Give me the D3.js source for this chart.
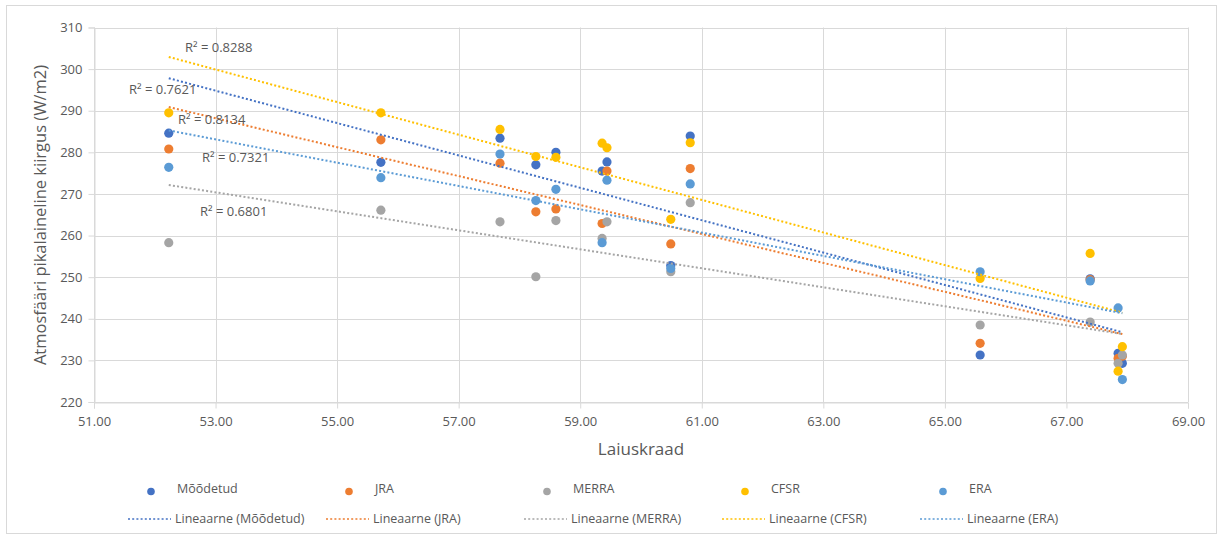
<!DOCTYPE html>
<html>
<head>
<meta charset="utf-8">
<script src="https://cdn.jsdelivr.net/npm/d3@7"></script>
<style>
  html, body { margin: 0; padding: 0; background: #fff; }
  svg text { font-family: "Open Sans", "Noto Sans", sans-serif; fill: #595959; }
</style>
</head>
<body>
<svg id="chart" width="1223" height="541"></svg>
<script>
// ---- Data ----
const latitude = [52.23, 55.72, 57.68, 58.27, 58.60, 59.36, 59.44, 60.49, 60.81, 65.58, 67.39, 67.85, 67.92];
const measured = [284.6, 277.6, 283.4, 277.0, 280.0, 275.5, 277.7, 252.8, 283.9, 231.3, 249.6, 231.7, 229.3];
const jra      = [280.8, 283.0, 277.4, 265.7, 266.4, 262.9, 275.5, 258.0, 276.1, 234.1, 249.4, 230.5, 231.0];
const merra    = [258.3, 266.1, 263.3, 250.1, 263.6, 259.3, 263.3, 251.3, 267.9, 238.5, 239.2, 229.3, 231.3];
const cfsr     = [289.5, 289.5, 285.5, 279.0, 278.8, 282.2, 281.1, 263.9, 282.3, 249.7, 255.7, 227.4, 233.3];
const era      = [276.4, 273.9, 279.6, 268.4, 271.1, 258.3, 273.3, 252.1, 272.4, 251.3, 249.1, 242.6, 225.4];

const seriesNames = ["Mõõdetud", "JRA", "MERRA", "CFSR", "ERA"];
const seriesValues = [measured, jra, merra, cfsr, era];
const seriesColors = ["#4472C4", "#ED7D31", "#A5A5A5", "#FFC000", "#5B9BD5"];
const r2Labels = ["R² = 0.7621", "R² = 0.8134", "R² = 0.6801", "R² = 0.8288", "R² = 0.7321"];

const xTicks = [51, 53, 55, 57, 59, 61, 63, 65, 67, 69];
const yTicks = [220, 230, 240, 250, 260, 270, 280, 290, 300, 310];
const xTitle = "Laiuskraad";
const yTitle = "Atmosfääri pikalaineline kiirgus (W/m2)";
const trendPrefix = "Lineaarne";

// ---- Layout ----
const svg = d3.select("#chart");
const plot = { left: 94, right: 1188, top: 27.5, bottom: 402 };

svg.append("rect").attr("x", 6.5).attr("y", 5.5).attr("width", 1210).attr("height", 528)
  .attr("fill", "#fff").attr("stroke", "#d9d9d9").attr("stroke-width", 1);

const x = d3.scaleLinear().domain([51, 69]).range([plot.left, plot.right]);
const y = d3.scaleLinear().domain([220, 310]).range([plot.bottom, plot.top]);

// grid
const grid = svg.append("g");
grid.selectAll(".gx").data(xTicks).join("line")
  .attr("x1", d => Math.round(x(d)) + 0.5).attr("x2", d => Math.round(x(d)) + 0.5)
  .attr("y1", plot.top).attr("y2", plot.bottom)
  .attr("stroke", "#d9d9d9").attr("stroke-width", 1);
grid.selectAll(".gy").data(yTicks).join("line")
  .attr("y1", d => Math.round(y(d)) + 0.5).attr("y2", d => Math.round(y(d)) + 0.5)
  .attr("x1", plot.left).attr("x2", plot.right)
  .attr("stroke", "#d9d9d9").attr("stroke-width", 1);

// axes
const xAxis = d3.axisBottom(x).tickValues(xTicks).tickFormat(d3.format(".2f")).tickSize(6).tickPadding(8);
const gx = svg.append("g").attr("transform", `translate(0,${Math.round(plot.bottom) + 0.5})`).call(xAxis);
gx.select(".domain").attr("stroke", "#d9d9d9");
gx.selectAll(".tick line").attr("stroke", "#d9d9d9");
gx.selectAll(".tick text").attr("font-size", 13).style("fill", "#595959")
  .style("font-family", "'Open Sans', sans-serif");

const yAxis = d3.axisLeft(y).tickValues(yTicks).tickSize(6).tickPadding(6);
const gy = svg.append("g").attr("transform", `translate(${Math.round(plot.left) + 0.5},0)`).call(yAxis);
gy.select(".domain").attr("stroke", "#d9d9d9");
gy.selectAll(".tick line").attr("stroke", "#d9d9d9");
gy.selectAll(".tick text").attr("font-size", 13).style("fill", "#595959")
  .style("font-family", "'Open Sans', sans-serif");

// titles
svg.append("text").attr("x", 641).attr("y", 455).attr("text-anchor", "middle")
  .attr("font-size", 17).text(xTitle);
svg.append("text").attr("transform", "translate(46,215) rotate(-90)").attr("text-anchor", "middle")
  .attr("font-size", 16.5).text(yTitle);

// points
seriesValues.forEach((vals, i) => {
  svg.append("g").selectAll("circle").data(vals).join("circle")
    .attr("cx", (d, j) => x(latitude[j])).attr("cy", d => y(d))
    .attr("r", 4.6).attr("fill", seriesColors[i]);
});

// trendlines (least squares)
function fit(xs, ys) {
  const n = xs.length;
  const mx = d3.mean(xs), my = d3.mean(ys);
  let sxy = 0, sxx = 0;
  for (let k = 0; k < n; k++) { sxy += (xs[k] - mx) * (ys[k] - my); sxx += (xs[k] - mx) ** 2; }
  const b = sxy / sxx;
  return { a: my - b * mx, b };
}
const xMin = d3.min(latitude), xMax = d3.max(latitude);
seriesValues.forEach((vals, i) => {
  const f = fit(latitude, vals);
  svg.append("line")
    .attr("x1", x(xMin)).attr("y1", y(f.a + f.b * xMin))
    .attr("x2", x(xMax)).attr("y2", y(f.a + f.b * xMax))
    .attr("stroke", seriesColors[i]).attr("stroke-width", 2)
    .attr("stroke-dasharray", "2 2.2");
});

// R² labels
const r2Pos = [[129, 89], [178, 119.5], [200, 211], [185, 47], [202, 157]];
r2Labels.forEach((t, i) => {
  svg.append("text").attr("x", r2Pos[i][0]).attr("y", r2Pos[i][1]).attr("dy", "0.35em")
    .attr("font-size", 13).text(t);
});

// legend
const legX0 = 177, legStep = 198;
const leg = svg.append("g");
seriesNames.forEach((name, i) => {
  const tx = legX0 + legStep * i;
  leg.append("circle").attr("cx", tx - 26).attr("cy", 491.5).attr("r", 3.8).attr("fill", seriesColors[i]);
  leg.append("text").attr("x", tx).attr("y", 489).attr("dy", "0.35em").attr("font-size", 12.5).text(name);
  leg.append("line").attr("x1", tx - 49).attr("x2", tx - 6).attr("y1", 519).attr("y2", 519)
    .attr("stroke", seriesColors[i]).attr("stroke-width", 1.6).attr("stroke-dasharray", "2 2.2");
  leg.append("text").attr("x", tx - 2).attr("y", 519).attr("dy", "0.35em").attr("font-size", 12.5)
    .text(`${trendPrefix} (${name})`);
});
</script>
</body>
</html>
